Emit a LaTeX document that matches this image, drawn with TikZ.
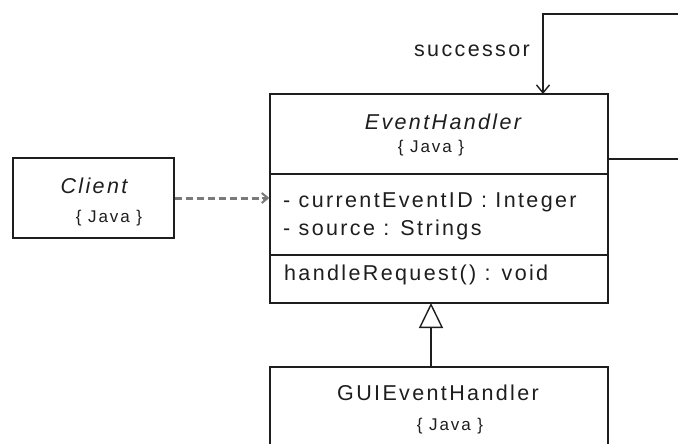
\documentclass[tikz,border=0pt]{standalone}
\usepackage{fontspec}
\setmainfont{Liberation Sans}[LetterSpace=11]
\usetikzlibrary{arrows.meta}
\definecolor{ink}{HTML}{1E1E1E}
\definecolor{dashgray}{HTML}{7A7A7A}
\tikzset{
  classbox/.style={draw=ink, line width=1.4pt, fill=white, rectangle, inner sep=0pt},
  big/.style={font=\fontsize{21.5}{24}\selectfont, text=ink, inner sep=0pt},
  bigit/.style={font=\fontsize{21.5}{24}\selectfont\itshape, text=ink, inner sep=0pt},
  small/.style={font=\fontsize{17}{20}\selectfont, text=ink, inner sep=0pt},
  link/.style={draw=ink, line width=1.4pt},
  barb/.style={-{Straight Barb[length=8pt,width=13pt,line width=1.4pt]}},
  depend/.style={draw=dashgray, line width=3pt, dash pattern=on 7pt off 4pt},
  inherit/.style={-{Triangle[open,length=25pt,width=24pt,line width=1.4pt,fill=white]}}
}
\begin{document}
\begin{tikzpicture}[x=1pt,y=-1pt]
\useasboundingbox (0,0) rectangle (678,444);
\clip (0,0) rectangle (678,444);
\fill[white] (0,0) rectangle (678,444);
% boxes
\node[classbox, minimum width=338pt, minimum height=209pt] (eh) at (439,198.5) {};
\node[classbox, minimum width=161pt, minimum height=80pt] (cl) at (93.5,198) {};
\node[classbox, minimum width=338pt, minimum height=100pt] (gui) at (439,417) {};
% compartments
\coordinate (s1l) at (270,174); \coordinate (s1r) at (608,174);
\coordinate (s2l) at (270,255); \coordinate (s2r) at (608,255);
\draw[link] (s1l) -- (s1r);
\draw[link] (s2l) -- (s2r);
% texts
\node[bigit, anchor=base] (ehname) at (443,129) {EventHandler};
\node[small, anchor=base] (ehjava) at (431,153) {\{ Java \}};
\node[big, anchor=base west] (attr1) at (283,207) {- currentEventID : Integer};
\node[big, anchor=base west] (attr2) at (283,235) {- source : Strings};
\node[big, anchor=base west] (op1) at (284,280) {handleRequest() : void};
\node[bigit, anchor=base] (clname) at (94,193) {Client};
\node[small, anchor=base] (cljava) at (109,222) {\{ Java \}};
\node[big, anchor=base] (guiname) at (438,400) {GUIEventHandler};
\node[small, anchor=base] (guijava) at (450,430) {\{ Java \}};
\node[big, anchor=base] (succ) at (472,57) {successor};
% self association
\coordinate (r1) at (608,159);
\coordinate (r2) at (700,159);
\coordinate (r3) at (700,14);
\coordinate (r4) at (543,14);
\coordinate (r5) at (543,94);
\draw[link, barb] (r1) -- (r2) -- (r3) -- (r4) -- (r5);
% dependency
\draw[depend] (cl.east) -- ([xshift=-4pt]eh.west |- cl.east);
\draw[draw=dashgray, line width=2pt, -{Straight Barb[length=6pt,width=10pt,line width=2pt]}] ([xshift=-7pt]eh.west |- cl.east) -- (eh.west |- cl.east);
% inheritance
\draw[link, inherit] (gui.north -| 431,0) -- (431,303);
\end{tikzpicture}
\end{document}
